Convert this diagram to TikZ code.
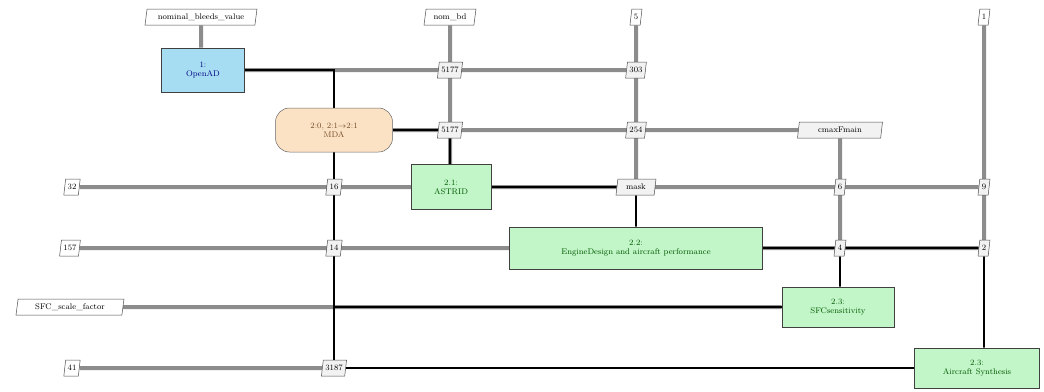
\documentclass[tikz,border=0pt]{standalone}
\usetikzlibrary{shapes.geometric,backgrounds}
\definecolor{procgreen}{HTML}{C2F5C8}
\definecolor{proccyan}{HTML}{A6DDF2}
\definecolor{mdaorange}{HTML}{FCE2C4}
\definecolor{datagray}{HTML}{8C8C8C}
\definecolor{datafill}{HTML}{F2F2F2}
\begin{document}
\begin{tikzpicture}[x=1pt,y=-1pt,
  font=\fontsize{8.2pt}{9pt}\selectfont,
  databox/.style={trapezium, trapezium left angle=78, trapezium right angle=102,
    draw=black!70, fill=white, line width=0.5pt, inner xsep=2pt, inner ysep=1.5pt,
    minimum height=16pt, trapezium stretches body},
  dataint/.style={databox, fill=datafill},
  procbox/.style={draw=black!75, line width=0.6pt, align=center, fill=procgreen,
    text=green!35!black},
  mdabox/.style={draw=black!60, line width=0.5pt, rounded corners=14pt, align=center,
    fill=mdaorange, text=brown!60!black},
  dataline/.style={draw=datagray, line width=4pt},
  procline/.style={draw=black, line width=1.6pt}]
\useasboundingbox (0,0) rectangle (1044,391);

% process nodes
\node[procbox, fill=proccyan, text=blue!50!black, minimum width=83pt, minimum height=44pt] (openad) at (203,70) {1:\\OpenAD};
\node[mdabox, minimum width=117pt, minimum height=44pt] (mda) at (334,130) {2:0, 2:1$\rightarrow$2:1\\MDA};
\node[procbox, minimum width=80pt, minimum height=45pt] (astrid) at (451,187) {2.1:\\ASTRID};
\node[procbox, minimum width=253pt, minimum height=42pt] (eng) at (636,248) {2.2:\\EngineDesign and aircraft performance};
\node[procbox, minimum width=112pt, minimum height=40pt] (sfc) at (838,307) {2.3:\\SFCsensitivity};
\node[procbox, minimum width=125pt, minimum height=40pt] (acs) at (977,368) {2.3:\\Aircraft Synthesis};

% inputs
\node[databox, minimum width=112pt] (nomin) at (201,17) {nominal\_bleeds\_value};
\node[databox, minimum width=52pt] (nombd) at (450,17) {nom\_bd};
\node[databox] (in5) at (636,17) {5};
\node[databox] (in1) at (984,17) {1};
\node[databox] (in32) at (72,187) {32};
\node[databox] (in157) at (70,248) {157};
\node[databox, minimum width=108pt] (insfc) at (70,307) {SFC\_scale\_factor};
\node[databox] (in41) at (72,368) {41};

% data nodes
\node[dataint] (d1a) at (450,70) {5177};
\node[dataint] (d1b) at (636,70) {303};
\node[dataint] (d2a) at (450,130) {5177};
\node[dataint] (d2b) at (636,130) {254};
\node[dataint, minimum width=85pt] (d2c) at (840,130) {cmaxFmain};
\node[dataint] (d3a) at (334,187) {16};
\node[dataint, minimum width=40pt] (d3b) at (636,187) {mask};
\node[dataint] (d3c) at (840,187) {6};
\node[dataint] (d3d) at (984,187) {9};
\node[dataint] (d4a) at (334,248) {14};
\node[dataint] (d4c) at (840,248) {4};
\node[dataint] (d4d) at (984,248) {2};
\node[dataint] (d6a) at (334,368) {3187};

\coordinate (c1) at (openad.east -| mda);
\coordinate (c5) at (sfc.west -| mda);
\coordinate (cn) at (openad.north -| nomin);
\coordinate (ca) at (astrid.north -| nombd);
\coordinate (cs) at (sfc.north -| d4c);
\coordinate (cy) at (acs.north -| d4d);

\begin{scope}[on background layer]
  % data lines
  \draw[dataline] (nomin) -- (cn);
  \draw[dataline] (openad) -- (d1b);
  \draw[dataline] (nombd) -- (ca);
  \draw[dataline] (in5) -- (d3b);
  \draw[dataline] (in1) -- (d4d);
  \draw[dataline] (mda) -- (d2c);
  \draw[dataline] (d2c) -- (d4c);
  \draw[dataline] (in32) -- (d3d);
  \draw[dataline] (in157) -- (d4d);
  \draw[dataline] (insfc) -- (sfc);
  \draw[dataline] (in41) -- (d6a);
  % process lines
  \draw[procline] (openad) -- (c1) -- (d6a);
  \draw[procline] (mda) -- (d2a);
  \draw[procline] (d2a) -- (ca);
  \draw[procline] (astrid) -- (d3b) -- (eng);
  \draw[procline] (eng) -- (d4c) -- (d4d);
  \draw[procline] (d4c) -- (cs);
  \draw[procline] (sfc) -- (c5);
  \draw[procline] (d4d) -- (cy);
  \draw[procline] (d6a) -- (acs);
\end{scope}
\end{tikzpicture}
\end{document}
